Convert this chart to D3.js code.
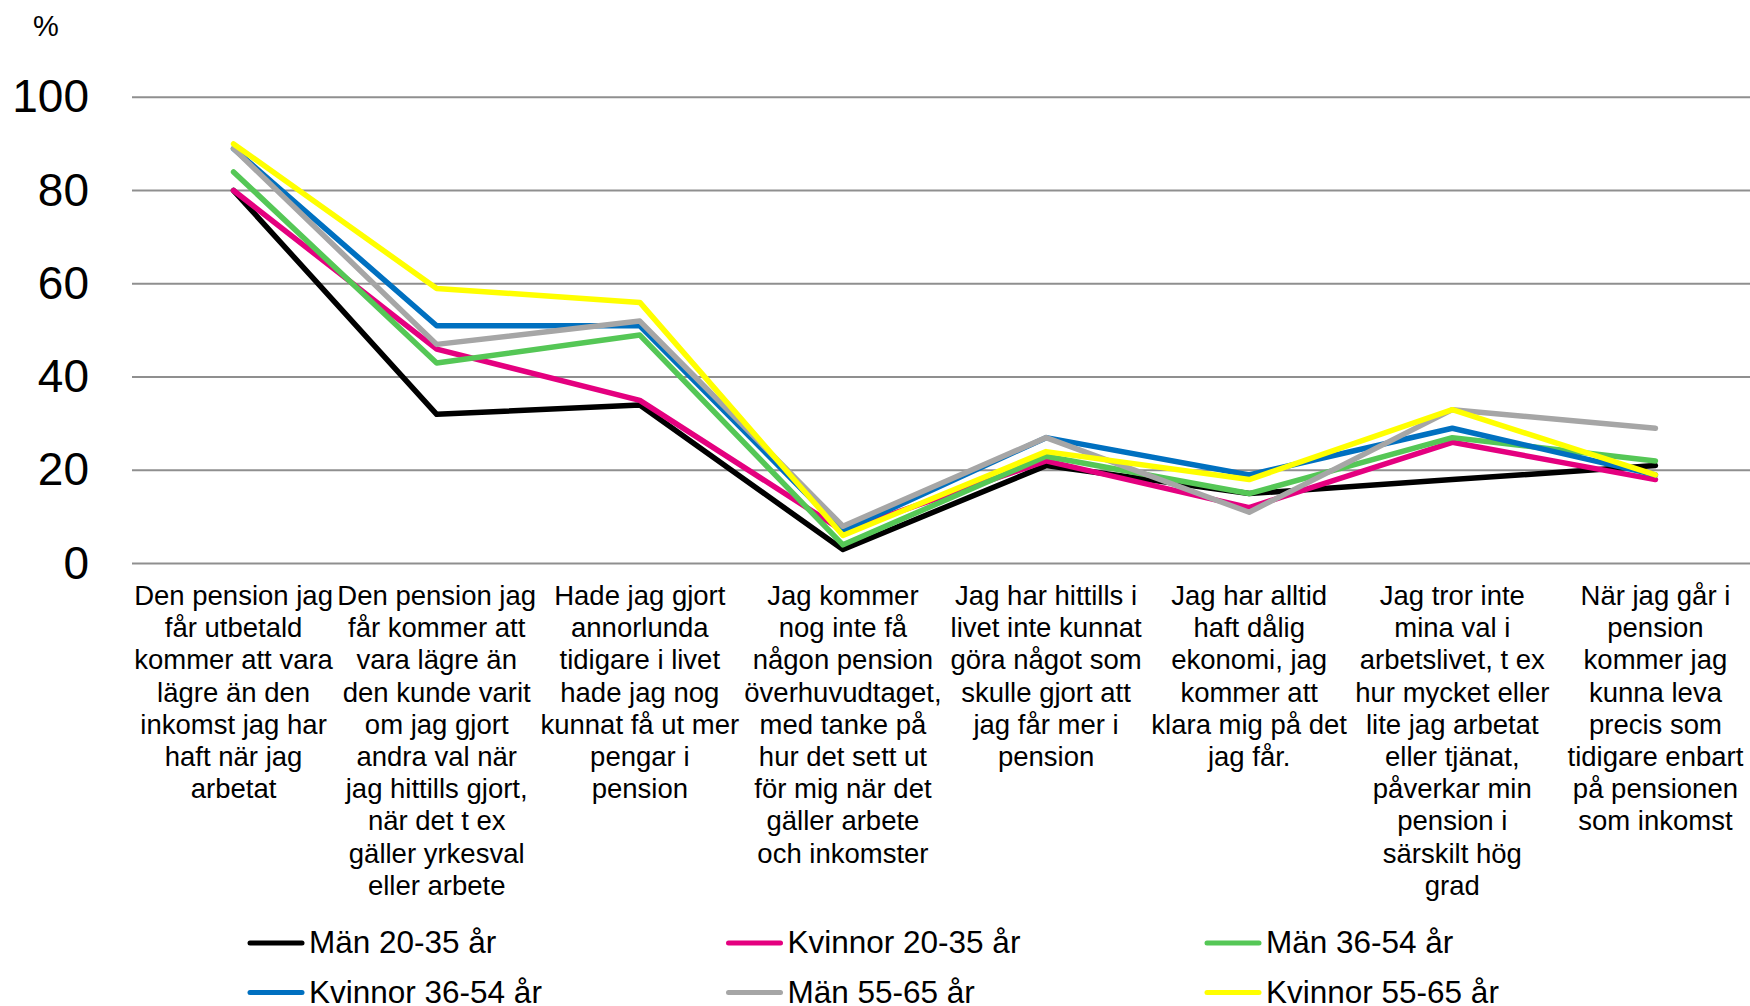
<!DOCTYPE html>
<html>
<head>
<meta charset="utf-8">
<script src="https://cdn.jsdelivr.net/npm/d3@7"></script>
<style>
  body { margin: 0; background: #FFFFFF; }
  svg { display: block; font-family: "Liberation Sans", Arial, sans-serif; }
</style>
</head>
<body>
<svg id="chart"></svg>
<script>
//--Data
var categories = [
  "Den pension jag\nfår utbetald\nkommer att vara\nlägre än den\ninkomst jag har\nhaft när jag\narbetat",
  "Den pension jag\nfår kommer att\nvara lägre än\nden kunde varit\nom jag gjort\nandra val när\njag hittills gjort,\nnär det t ex\ngäller yrkesval\neller arbete",
  "Hade jag gjort\nannorlunda\ntidigare i livet\nhade jag nog\nkunnat få ut mer\npengar i\npension",
  "Jag kommer\nnog inte få\nnågon pension\növerhuvudtaget,\nmed tanke på\nhur det sett ut\nför mig när det\ngäller arbete\noch inkomster",
  "Jag har hittills i\nlivet inte kunnat\ngöra något som\nskulle gjort att\njag får mer i\npension",
  "Jag har alltid\nhaft dålig\nekonomi, jag\nkommer att\nklara mig på det\njag får.",
  "Jag tror inte\nmina val i\narbetslivet, t ex\nhur mycket eller\nlite jag arbetat\neller tjänat,\npåverkar min\npension i\nsärskilt hög\ngrad",
  "När jag går i\npension\nkommer jag\nkunna leva\nprecis som\ntidigare enbart\npå pensionen\nsom inkomst"
];
var seriesNames = ["Män 20-35 år", "Kvinnor 20-35 år", "Män 36-54 år",
                   "Kvinnor 36-54 år", "Män 55-65 år", "Kvinnor 55-65 år"];
var seriesColors = ["#000000", "#E4007F", "#55C756", "#0070C0", "#A6A6A6", "#FFFF00"];
var man2035     = [80, 32, 34, 3, 21, 15, 18, 21];
var kvinnor2035 = [80, 46, 35, 7, 22, 12, 26, 18];
var man3654     = [84, 43, 49, 4, 23, 15, 27, 22];
var kvinnor3654 = [89, 51, 51, 7, 27, 19, 29, 19];
var man5565     = [89, 47, 52, 8, 27, 11, 33, 29];
var kvinnor5565 = [90, 59, 56, 6, 24, 18, 33, 19];
var yTicks = [0, 20, 40, 60, 80, 100];

var seriesValues = [man2035, kvinnor2035, man3654, kvinnor3654, man5565, kvinnor5565];

//--Canvas
var canvas = { width: 1750, height: 1006 };
var x = d3.scaleBand().domain(d3.range(categories.length)).range([132, 1757]);
var y = d3.scaleLinear().domain([0, 100]).range([563.5, 97.3]);
var cx = i => x(i) + x.bandwidth() / 2;

var root = d3.select("#chart")
  .attr("width", canvas.width)
  .attr("height", canvas.height);

//Gridlines
root.append("g")
  .selectAll("line")
  .data(yTicks)
  .enter()
  .append("line")
  .attr("x1", 132)
  .attr("x2", canvas.width)
  .attr("y1", d => y(d))
  .attr("y2", d => y(d))
  .attr("stroke", "#8F8F8F")
  .attr("stroke-width", 2);

//Y tick labels
root.append("g")
  .selectAll("text")
  .data(yTicks)
  .enter()
  .append("text")
  .attr("x", 89)
  .attr("y", d => y(d))
  .attr("dy", "0.33em")
  .attr("text-anchor", "end")
  .style("font-size", "46px")
  .text(d => d);

root.append("text")
  .attr("x", 33)
  .attr("y", 35.5)
  .style("font-size", "29px")
  .text("%");

//Category labels
var cats = root.append("g")
  .selectAll("text")
  .data(categories)
  .enter()
  .append("text")
  .attr("text-anchor", "middle")
  .style("font-size", "27.5px");
cats.selectAll("tspan")
  .data((d, i) => d.split("\n").map(s => ({ s: s, i: i })))
  .enter()
  .append("tspan")
  .attr("x", d => cx(d.i))
  .attr("y", (d, j) => 605 + j * 32.2)
  .text(d => d.s);

//Lines
var line = d3.line()
  .x((d, i) => cx(i))
  .y(d => y(d));

root.append("g")
  .selectAll("path")
  .data(seriesValues)
  .enter()
  .append("path")
  .attr("d", line)
  .attr("fill", "none")
  .attr("stroke", (d, i) => seriesColors[i])
  .attr("stroke-width", 5.5)
  .attr("stroke-linejoin", "round")
  .attr("stroke-linecap", "round");

//Legend
var legend = root.append("g")
  .selectAll("g")
  .data(seriesNames)
  .enter()
  .append("g")
  .attr("transform", (d, i) => "translate(" + (250 + (i % 3) * 478.5) + "," + (943 + Math.floor(i / 3) * 49.5) + ")");
legend.append("line")
  .attr("x1", 0)
  .attr("x2", 52)
  .attr("stroke", (d, i) => seriesColors[i])
  .attr("stroke-width", 5)
  .attr("stroke-linecap", "round");
legend.append("text")
  .attr("x", 59)
  .attr("y", 10)
  .style("font-size", "31.5px")
  .text(d => d);
</script>
</body>
</html>
